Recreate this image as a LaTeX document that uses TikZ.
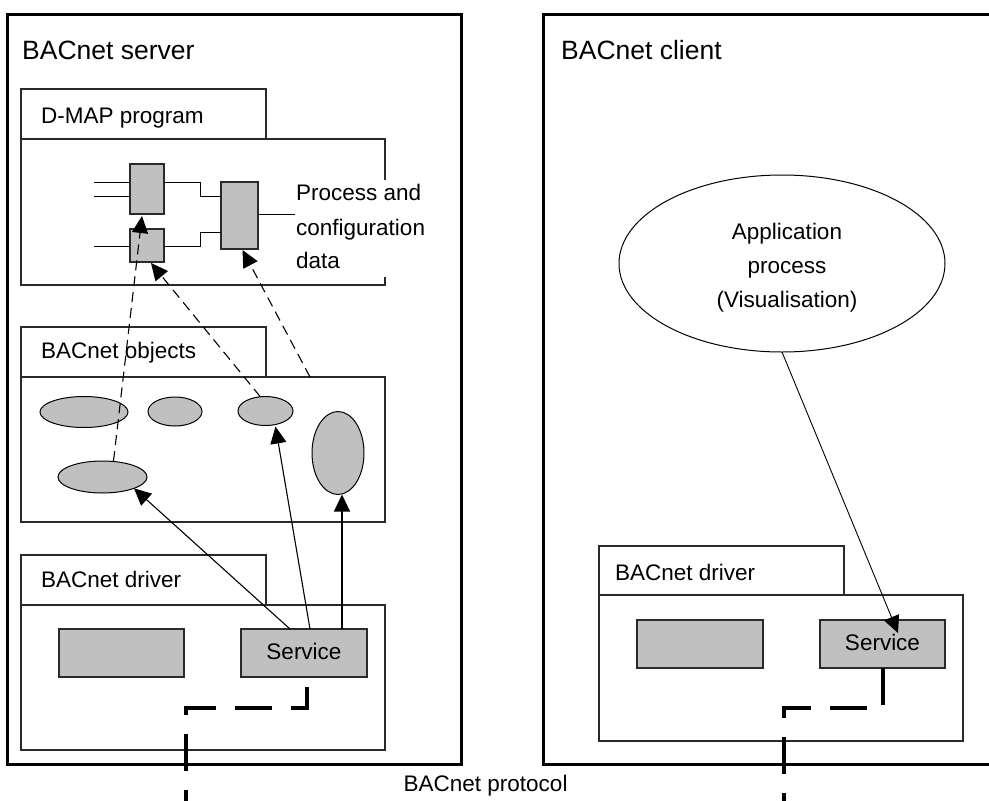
\documentclass[tikz,border=0pt]{standalone}
\usepackage{fontspec}
\setmainfont{Liberation Sans}
\usetikzlibrary{arrows.meta,calc,shapes.geometric}
\definecolor{boxgray}{HTML}{C0C0C0}
\definecolor{ink}{HTML}{2A2A2A}

\begin{document}
\begin{tikzpicture}[x=1pt,y=-1pt,
  outer/.style={draw=black, line width=3pt, rectangle, inner sep=0, outer sep=0, anchor=north west},
  frame/.style={draw=ink, line width=1.4pt, fill=white, rectangle, inner sep=0, outer sep=0, anchor=north west},
  part/.style={draw=ink, line width=1.4pt, fill=boxgray, rectangle, inner sep=0, outer sep=0},
  blob/.style={ellipse, draw=black, line width=1pt, fill=boxgray, inner sep=0, outer sep=0},
  wire/.style={draw=black, line width=1pt},
  arr/.style={draw=black, line width=1.1pt, -{Triangle[length=17pt,width=16pt]}},
  darr/.style={arr, dash pattern=on 10pt off 6pt},
  bus/.style={draw=black, line width=4pt, dash pattern=on 37pt off 19pt, line cap=butt, line join=miter},
  title/.style={font=\fontsize{26.5}{30}\selectfont, anchor=base west, inner sep=0},
  label/.style={font=\fontsize{22.5}{27}\selectfont, anchor=base west, inner sep=0},
  clabel/.style={font=\fontsize{22.5}{27}\selectfont, anchor=base, inner sep=0},
]
\useasboundingbox (0,0) rectangle (989,801);
\fill[white] (0,0) rectangle (989,801);
\clip (0,0) rectangle (989,801);

% ---------------- server side ----------------
\node[outer, minimum width=454pt, minimum height=750pt] (server) at (7,14.5) {};
\node[title] (srvtitle) at (22,59) {BACnet server};

% D-MAP program
\node[frame, minimum width=245pt, minimum height=50pt] (dmtab) at (21,89) {};
\node[label] (dmlabel) at (41,123) {D-MAP program};
\coordinate (dmnw) at (21,139);
\coordinate (dmse) at (385,285);
\draw[draw=ink, line width=1.4pt] (385,180) |- (dmnw) |- (dmse) -- (385,277);

\node[part, minimum width=34pt, minimum height=50pt] (b1) at (147,189) {};
\node[part, minimum width=34pt, minimum height=33pt] (b2) at (147,245.5) {};
\node[part, minimum width=37pt, minimum height=67pt] (b3) at (239.5,215.5) {};

\draw[wire] (94,182) -- (94,182 -| b1.west);
\draw[wire] (94,196) -- (94,196 -| b1.west);
\draw[wire] (94,246) -- (94,246 -| b2.west);
\draw[wire] (b1.east |- 0,182) -- (200,182) -- (200,196) -- (b3.west |- 0,196);
\draw[wire] (b2.east |- 0,246) -- (200,246) -- (200,232) -- (b3.west |- 0,232);
\draw[wire] (b3.east |- 0,214) -- (295,214);

\node[label] (pcd1) at (296,200) {Process and};
\node[label] (pcd2) at (296,235) {configuration};
\node[label] (pcd3) at (296,268) {data};

% BACnet objects
\node[frame, minimum width=245pt, minimum height=50pt] (objtab) at (21,327) {};
\node[label] (objlabel) at (41,358) {BACnet objects};
\node[frame, minimum width=364pt, minimum height=145pt] (objbody) at (21,377) {};

\node[blob, minimum width=88pt, minimum height=31pt] (e1) at (84,412) {};
\node[blob, minimum width=54pt, minimum height=29pt] (e2) at (175,411.5) {};
\node[blob, minimum width=55pt, minimum height=29pt] (e3) at (265.5,411) {};
\node[blob, minimum width=52pt, minimum height=83pt] (e4) at (338,453) {};
\node[blob, minimum width=89pt, minimum height=32pt] (e5) at (102.5,477) {};

% BACnet driver (server)
\node[frame, minimum width=245pt, minimum height=50pt] (sdtab) at (21,555) {};
\node[label] (sdlabel) at (41,587) {BACnet driver};
\node[frame, minimum width=364pt, minimum height=145pt] (sdbody) at (21,605) {};
\node[part, anchor=north west, minimum width=125pt, minimum height=48pt] (sg) at (59,629) {};
\node[part, anchor=north west, minimum width=126pt, minimum height=48pt,
      font=\fontsize{22.5}{27}\selectfont, text height=16pt, text depth=4pt] (svc) at (241,629) {Service};

% object mapping (dashed)
\coordinate (d3s) at ($(objbody.north west)+(289,0)$);
\draw[darr] ($(e5.north)+(11,0)$) -- ($(b1.south)+(-5,2)$);
\draw[darr] (e3.110) -- ($(b2.south)+(4,1)$);
\draw[darr] (d3s) -- ($(b3.south)+(3,1)$);

% service access to objects
\coordinate (e4b) at ($(e4.south)+(4,0)$);
\draw[arr] ($(svc.north)+(-14,0)$) -- (e5.south east);
\draw[arr] ($(svc.north)+(6,0)$) -- ($(e3.south)+(10,1)$);
\draw[arr] (svc.north -| e4b) -- (e4b);

% ---------------- client side ----------------
\node[outer, minimum width=500pt, minimum height=750pt] (client) at (543.5,14.5) {};
\node[title] (clititle) at (561,59) {BACnet client};

\node[ellipse, draw=black, line width=1pt, fill=white, inner sep=0, outer sep=0,
      minimum width=326pt, minimum height=177pt] (app) at (782,263.5) {};
\node[clabel] (app1) at (787,239) {Application};
\node[clabel] (app2) at (787,273) {process};
\node[clabel] (app3) at (787,307) {(Visualisation)};

\node[frame, minimum width=245pt, minimum height=49pt] (cdtab) at (599,546) {};
\node[label] (cdlabel) at (615,580) {BACnet driver};
\node[frame, minimum width=364pt, minimum height=146pt] (cdbody) at (599,595) {};
\node[part, anchor=north west, minimum width=126pt, minimum height=48pt] (cg) at (637,620) {};
\node[part, anchor=north west, minimum width=125pt, minimum height=48pt,
      font=\fontsize{22.5}{27}\selectfont, text height=16pt, text depth=4pt] (csvc) at (820,620) {Service};

\draw[arr, line width=0.9pt] (app.south) -- ($(csvc.north)+(15.5,13)$);

% ---------------- protocol link ----------------
\coordinate (sbusend) at (186,815);
\coordinate (cbusend) at (784,815);
\draw[bus] ($(svc.south)+(3,10)$) |- (sbusend |- 0,708) -- (sbusend);
\draw[bus] ($(csvc.south)+(0.5,0)$) |- (cbusend |- 0,708) -- (cbusend);

\node[label] (proto) at (403.5,791) {BACnet protocol};
\end{tikzpicture}
\end{document}
